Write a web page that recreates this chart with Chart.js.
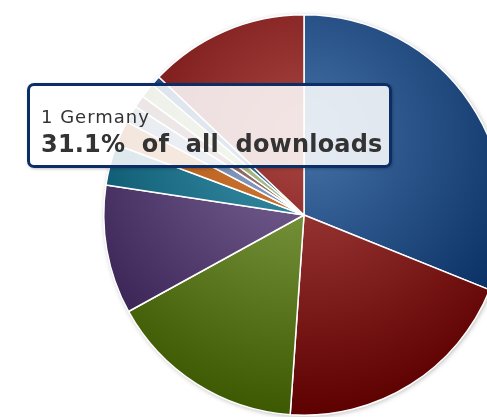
<!DOCTYPE html>
<html>
<head>
<meta charset="utf-8">
<script src="https://cdn.jsdelivr.net/npm/chart.js@4"></script>
<style>
    html, body { margin: 0; padding: 0; background: #fff; overflow: hidden; }
    body { width: 487px; height: 417px; position: relative; }
    #wrap { position: absolute; left: 0; top: 0; width: 608px; height: 430px; }
    .tip {
        position: absolute;
        left: 27px; top: 83px;
        width: 359px; height: 79px;
        border: 3px solid #0c2e66;
        border-radius: 7px;
        background: rgba(255, 255, 255, 0.86);
        box-shadow: 1px 1px 3px rgba(0, 0, 0, 0.25);
        font-family: "DejaVu Sans", sans-serif;
        color: #333;
    }
    .tip .name { position: absolute; left: 11px; top: 20px; font-size: 18px; letter-spacing: 1px; }
    .tip .value { position: absolute; left: 11px; top: 44px; font-size: 24px; font-weight: bold; word-spacing: 8px; letter-spacing: 0.2px; }
</style>
</head>
<body>
<div id="wrap"><canvas id="pieChart" width="608" height="430"></canvas></div>
<div class="tip" id="tip"><div class="name" id="tipName"></div><div class="value" id="tipValue"></div></div>

<script>
// Download share per country (percent), clockwise from 12 o'clock
const labels = ['1 Germany', '2', '3', '4', '5', '6', '7', '8', '9', '10', '11'];
const shares = [31.1, 20.0, 15.9, 10.4, 3.3, 2.0, 1.4, 1.0, 1.2, 0.8, 12.9];
const baseColors = ['#4572A7', '#AA4643', '#89A54E', '#80699B', '#3D96AE', '#DB843D', '#92A8CD', '#A47D7C', '#B5CA92', '#4572A7', '#AA4643'];

// darken like highcharts brighten(-0.3)
function darken(hex, amt) {
    const n = parseInt(hex.slice(1), 16);
    const r = Math.max(0, (n >> 16) - amt);
    const g = Math.max(0, ((n >> 8) & 255) - amt);
    const b = Math.max(0, (n & 255) - amt);
    return `rgb(${r},${g},${b})`;
}

function sliceFill(context) {
    const chart = context.chart;
    const area = chart.chartArea;
    if (!area) return baseColors[context.dataIndex];
    const c = baseColors[context.dataIndex];
    const size = Math.min(area.right - area.left, area.bottom - area.top);
    const cx = (area.left + area.right) / 2;
    const cy = (area.top + area.bottom) / 2 - size * 0.2;
    const g = chart.ctx.createRadialGradient(cx, cy, 0, cx, cy, size * 0.7);
    g.addColorStop(0, c);
    g.addColorStop(1, darken(c, 77));
    return g;
}

// soft shadow under the pie
const pieShadow = {
    id: 'pieShadow',
    beforeDatasetsDraw(chart) {
        const arc = chart.getDatasetMeta(0).data[0];
        if (!arc) return;
        const ctx = chart.ctx;
        ctx.save();
        ctx.shadowColor = 'rgba(0,0,0,0.3)';
        ctx.shadowBlur = 5;
        ctx.shadowOffsetX = 1;
        ctx.shadowOffsetY = 1;
        ctx.fillStyle = '#fff';
        ctx.beginPath();
        ctx.arc(arc.x, arc.y, arc.outerRadius, 0, Math.PI * 2);
        ctx.fill();
        ctx.restore();
    }
};

new Chart(document.getElementById('pieChart'), {
    type: 'pie',
    data: {
        labels: labels,
        datasets: [{
            data: shares,
            backgroundColor: sliceFill,
            borderColor: '#ffffff',
            borderWidth: 1.5,
            hoverOffset: 0
        }]
    },
    options: {
        responsive: false,
        animation: false,
        events: [],
        layout: { padding: 14 },
        plugins: {
            legend: { display: false },
            tooltip: { enabled: false }
        }
    },
    plugins: [pieShadow]
});

document.getElementById('tipName').textContent = labels[0];
document.getElementById('tipValue').textContent = shares[0].toFixed(1) + '% of all downloads';
</script>
</body>
</html>
